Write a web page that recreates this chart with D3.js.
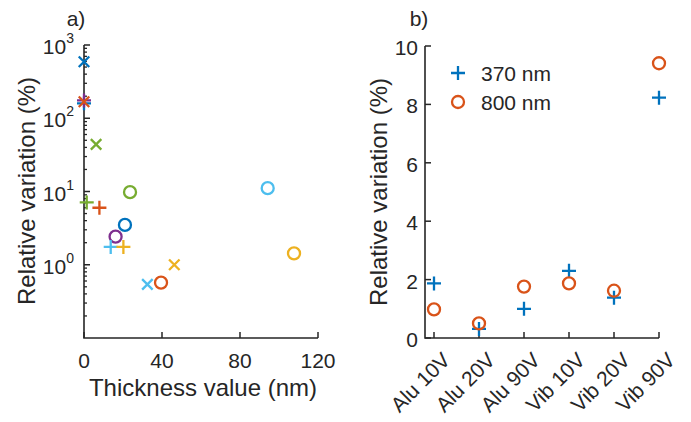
<!DOCTYPE html>
<html><head><meta charset="utf-8">
<script src="https://cdn.jsdelivr.net/npm/d3@7"></script>
<style>
body{margin:0;background:#fff;}
text{font-family:"Liberation Sans",Arial,Helvetica,sans-serif;fill:#262626;}
</style></head>
<body>
<svg id="c" width="691" height="422"></svg>
<script>
// ---------- Data: panel a ----------
const aXTicks = [0, 40, 80, 120];
const aYTicks = [1, 10, 100, 1000];
const aYTickExps = ["0", "1", "2", "3"];
const aX   = [0,   0,   0,   0,   6.2, 1.4, 7.9, 23.6, 21,  16.2, 13.7, 20.2, 46.3, 32.5, 39.5, 94.2, 107.7];
const aY   = [590, 160, 175, 168, 44,  7.1, 6.0, 9.8,  3.5, 2.42, 1.75, 1.75, 1.0,  0.54, 0.57, 11.1, 1.43];
const aSym = ["x", "+", "+", "x", "x", "+", "+", "o",  "o", "o",  "+",  "+",  "x",  "x",  "o",  "o",  "o"];
const aCol = ["#0072BD","#0072BD","#7E2F8E","#D95319","#77AC30","#77AC30","#D95319","#77AC30","#0072BD","#7E2F8E","#4DBEEE","#EDB120","#EDB120","#4DBEEE","#D95319","#4DBEEE","#EDB120"];

// ---------- Data: panel b ----------
const bCats = ["Alu 10V", "Alu 20V", "Alu 90V", "Vib 10V", "Vib 20V", "Vib 90V"];
const b370  = [1.87, 0.31, 1.0, 2.3, 1.38, 8.23];
const b800  = [0.98, 0.5, 1.76, 1.87, 1.62, 9.41];
const bYTicks = [0, 2, 4, 6, 8, 10];
const bLegend = ["370 nm", "800 nm"];

const svg = d3.select("#c");
const ink = "#262626";

function marker(g, sym, x, y, col, size) {
  const s = size / 2;
  if (sym === "+") {
    g.append("path").attr("d", `M${x-s},${y}H${x+s}M${x},${y-s}V${y+s}`)
      .attr("stroke", col).attr("stroke-width", 2.3).attr("fill", "none");
  } else if (sym === "x") {
    const t = s * 0.75;
    g.append("path").attr("d", `M${x-t},${y-t}L${x+t},${y+t}M${x-t},${y+t}L${x+t},${y-t}`)
      .attr("stroke", col).attr("stroke-width", 2.3).attr("fill", "none");
  } else {
    g.append("circle").attr("cx", x).attr("cy", y).attr("r", s * 0.8)
      .attr("stroke", col).attr("stroke-width", 2.3).attr("fill", "none");
  }
}

// ---------- Panel a ----------
const ax = d3.scaleLinear().domain([0, 120]).range([84, 318]);
const ay = d3.scaleLog().domain([0.1, 1000]).range([338, 45]);

const ga = svg.append("g");
const minors = [];
[0.1, 1, 10, 100].forEach(d => { for (let k = 2; k <= 9; k++) minors.push(d * k); });
ga.selectAll(".mn").data(minors).enter().append("line")
  .attr("x1", 84).attr("x2", 87).attr("y1", d => ay(d)).attr("y2", d => ay(d))
  .attr("stroke", ink).attr("stroke-width", 1.3);
ga.selectAll(".mj").data(aYTicks).enter().append("line")
  .attr("x1", 84).attr("x2", 90).attr("y1", d => ay(d)).attr("y2", d => ay(d))
  .attr("stroke", ink).attr("stroke-width", 1.5);
ga.selectAll(".xt").data(aXTicks).enter().append("line")
  .attr("x1", d => ax(d)).attr("x2", d => ax(d)).attr("y1", 338).attr("y2", 332)
  .attr("stroke", ink).attr("stroke-width", 1.5);
ga.append("path").attr("d", `M84,45V338H318`).attr("stroke", ink).attr("stroke-width", 1.6).attr("fill", "none");

aYTicks.forEach((d, i) => {
  const t = ga.append("text").attr("x", 74).attr("y", ay(d) + 9).attr("text-anchor", "end")
    .style("font-size", "21px");
  t.append("tspan").text("10");
  t.append("tspan").attr("dy", -11).style("font-size", "14px").text(aYTickExps[i]);
});
ga.selectAll(".xl").data(aXTicks).enter().append("text")
  .attr("x", d => ax(d)).attr("y", 368).attr("text-anchor", "middle")
  .style("font-size", "21px").text(d => d);
ga.append("text").attr("x", 203).attr("y", 396).attr("text-anchor", "middle")
  .style("font-size", "24px").text("Thickness value (nm)");
ga.append("text").attr("transform", "translate(35,191) rotate(-90)").attr("text-anchor", "middle")
  .style("font-size", "24px").text("Relative variation (%)");
ga.append("text").attr("x", 76).attr("y", 26).attr("text-anchor", "middle")
  .style("font-size", "21px").text("a)");

aX.forEach((x, i) => marker(ga, aSym[i], ax(x), ay(aY[i]), aCol[i], aSym[i] === "o" ? 15 : 14));

// ---------- Panel b ----------
const bx = d3.scaleLinear().domain([0.8, 6]).range([425, 659]);
const by = d3.scaleLinear().domain([0, 10]).range([338, 46]);
const gb = svg.append("g");

gb.selectAll(".yt").data(bYTicks).enter().append("line")
  .attr("x1", 425).attr("x2", 431).attr("y1", d => by(d)).attr("y2", d => by(d))
  .attr("stroke", ink).attr("stroke-width", 1.5);
gb.selectAll(".xt").data(bCats).enter().append("line")
  .attr("x1", (d, i) => bx(i + 1)).attr("x2", (d, i) => bx(i + 1)).attr("y1", 338).attr("y2", 332)
  .attr("stroke", ink).attr("stroke-width", 1.5);
gb.append("path").attr("d", `M425,46V338H659`).attr("stroke", ink).attr("stroke-width", 1.6).attr("fill", "none");

gb.selectAll(".yl").data(bYTicks).enter().append("text")
  .attr("x", 418).attr("y", d => by(d) + 9).attr("text-anchor", "end")
  .style("font-size", "21px").text(d => d);
gb.selectAll(".xl").data(bCats).enter().append("text")
  .attr("transform", (d, i) => `translate(${bx(i + 1) + 7},${351}) rotate(-45)`)
  .attr("text-anchor", "end").attr("dy", "0.7em")
  .style("font-size", "21px").text(d => d);
gb.append("text").attr("transform", "translate(387,192) rotate(-90)").attr("text-anchor", "middle")
  .style("font-size", "24px").text("Relative variation (%)");
gb.append("text").attr("x", 419).attr("y", 26).attr("text-anchor", "middle")
  .style("font-size", "21px").text("b)");

b370.forEach((v, i) => marker(gb, "+", bx(i + 1), by(v), "#0072BD", 14));
b800.forEach((v, i) => marker(gb, "o", bx(i + 1), by(v), "#D95319", 15));

marker(gb, "+", 458, 73, "#0072BD", 14);
marker(gb, "o", 458, 102, "#D95319", 15);
gb.append("text").attr("x", 481).attr("y", 81).style("font-size", "21px").text(bLegend[0]);
gb.append("text").attr("x", 481).attr("y", 110).style("font-size", "21px").text(bLegend[1]);
</script>
</body></html>
